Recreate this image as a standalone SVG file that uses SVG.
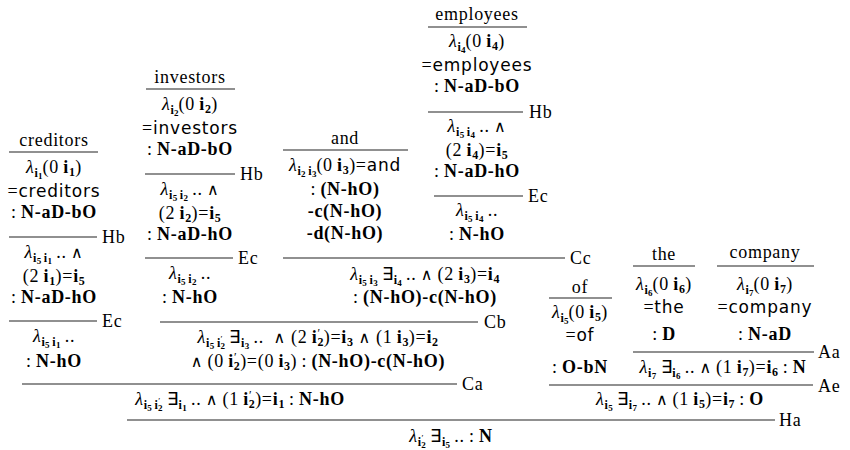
<svg xmlns="http://www.w3.org/2000/svg" width="850" height="450" viewBox="0 0 850 450">
<style>
text { font-family: "Liberation Serif", "Times New Roman", serif; font-size: 18px; letter-spacing: 0.7px; fill: #000; }
.m { text-anchor: middle; }
.b { font-weight: bold; }
.s { font-size: 12px; letter-spacing: 0.3px; }
.ss { font-size: 9px; letter-spacing: 0; }
.sn { font-family: "DejaVu Sans", "Open Sans", sans-serif; font-size: 17px; letter-spacing: 0.8px; }
.w { font-family: "DejaVu Sans", sans-serif; font-size: 16px; }
.l { font-style: italic; }
.rule { stroke: #222; stroke-width: 1.1; }
</style>
<rect width="850" height="450" fill="#fff"/>

<g id="creditors">
<text class="m" x="54" y="146">creditors</text>
<text class="m" x="54" y="173"><tspan class="l">λ</tspan><tspan class="s b" dy="4">i</tspan><tspan class="ss b" dy="2">1</tspan><tspan dy="-6">(0&#8201;</tspan><tspan class="b">i</tspan><tspan class="s b" dy="3">1</tspan><tspan dy="-3">)</tspan></text>
<text class="m" x="54" y="197">=<tspan class="sn">creditors</tspan></text>
<text class="m" x="54" y="218">:&#8201;<tspan class="b">N-aD-bO</tspan></text>
<text class="m" x="54" y="258"><tspan class="l">λ</tspan><tspan class="s b" dy="4">i</tspan><tspan class="ss b" dy="2">5</tspan><tspan class="s b" dy="-2">&#8201;i</tspan><tspan class="ss b" dy="2">1</tspan><tspan dy="-6">&#8201;..&#8201;</tspan><tspan class="w">∧</tspan></text>
<text class="m" x="54" y="282">(2&#8201;<tspan class="b">i</tspan><tspan class="s b" dy="3">1</tspan><tspan dy="-3">)=</tspan><tspan class="b">i</tspan><tspan class="s b" dy="3">5</tspan></text>
<text class="m" x="54" y="303">:&#8201;<tspan class="b">N-aD-hO</tspan></text>
<text class="m" x="54" y="342"><tspan class="l">λ</tspan><tspan class="s b" dy="4">i</tspan><tspan class="ss b" dy="2">5</tspan><tspan class="s b" dy="-2">&#8201;i</tspan><tspan class="ss b" dy="2">1</tspan><tspan dy="-6">&#8201;..</tspan></text>
<text class="m" x="54" y="367">:&#8201;<tspan class="b">N-hO</tspan></text>
</g>

<g id="investors">
<text class="m" x="190" y="83">investors</text>
<text class="m" x="190" y="110"><tspan class="l">λ</tspan><tspan class="s b" dy="4">i</tspan><tspan class="ss b" dy="2">2</tspan><tspan dy="-6">(0&#8201;</tspan><tspan class="b">i</tspan><tspan class="s b" dy="3">2</tspan><tspan dy="-3">)</tspan></text>
<text class="m" x="190" y="134">=<tspan class="sn">investors</tspan></text>
<text class="m" x="190" y="155">:&#8201;<tspan class="b">N-aD-bO</tspan></text>
<text class="m" x="190" y="195"><tspan class="l">λ</tspan><tspan class="s b" dy="4">i</tspan><tspan class="ss b" dy="2">5</tspan><tspan class="s b" dy="-2">&#8201;i</tspan><tspan class="ss b" dy="2">2</tspan><tspan dy="-6">&#8201;..&#8201;</tspan><tspan class="w">∧</tspan></text>
<text class="m" x="190" y="219">(2&#8201;<tspan class="b">i</tspan><tspan class="s b" dy="3">2</tspan><tspan dy="-3">)=</tspan><tspan class="b">i</tspan><tspan class="s b" dy="3">5</tspan></text>
<text class="m" x="190" y="240">:&#8201;<tspan class="b">N-aD-hO</tspan></text>
<text class="m" x="190" y="279"><tspan class="l">λ</tspan><tspan class="s b" dy="4">i</tspan><tspan class="ss b" dy="2">5</tspan><tspan class="s b" dy="-2">&#8201;i</tspan><tspan class="ss b" dy="2">2</tspan><tspan dy="-6">&#8201;..</tspan></text>
<text class="m" x="190" y="303">:&#8201;<tspan class="b">N-hO</tspan></text>
</g>

<g id="and">
<text class="m" x="345" y="144">and</text>
<text class="m" x="345" y="171"><tspan class="l">λ</tspan><tspan class="s b" dy="4">i</tspan><tspan class="ss b" dy="2">2</tspan><tspan class="s b" dy="-2">&#8201;i</tspan><tspan class="ss b" dy="2">3</tspan><tspan dy="-6">(0&#8201;</tspan><tspan class="b">i</tspan><tspan class="s b" dy="3">3</tspan><tspan dy="-3">)=</tspan><tspan class="sn">and</tspan></text>
<text class="m" x="345" y="195">:&#8201;<tspan class="b">(N-hO)</tspan></text>
<text class="m" x="345" y="217"><tspan class="b">-c(N-hO)</tspan></text>
<text class="m" x="345" y="239"><tspan class="b">-d(N-hO)</tspan></text>
</g>

<g id="employees">
<text class="m" x="477" y="20">employees</text>
<text class="m" x="477" y="47"><tspan class="l">λ</tspan><tspan class="s b" dy="4">i</tspan><tspan class="ss b" dy="2">4</tspan><tspan dy="-6">(0&#8201;</tspan><tspan class="b">i</tspan><tspan class="s b" dy="3">4</tspan><tspan dy="-3">)</tspan></text>
<text class="m" x="477" y="71">=<tspan class="sn">employees</tspan></text>
<text class="m" x="477" y="92">:&#8201;<tspan class="b">N-aD-bO</tspan></text>
<text class="m" x="477" y="132"><tspan class="l">λ</tspan><tspan class="s b" dy="4">i</tspan><tspan class="ss b" dy="2">5</tspan><tspan class="s b" dy="-2">&#8201;i</tspan><tspan class="ss b" dy="2">4</tspan><tspan dy="-6">&#8201;..&#8201;</tspan><tspan class="w">∧</tspan></text>
<text class="m" x="477" y="156">(2&#8201;<tspan class="b">i</tspan><tspan class="s b" dy="3">4</tspan><tspan dy="-3">)=</tspan><tspan class="b">i</tspan><tspan class="s b" dy="3">5</tspan></text>
<text class="m" x="477" y="177">:&#8201;<tspan class="b">N-aD-hO</tspan></text>
<text class="m" x="477" y="216"><tspan class="l">λ</tspan><tspan class="s b" dy="4">i</tspan><tspan class="ss b" dy="2">5</tspan><tspan class="s b" dy="-2">&#8201;i</tspan><tspan class="ss b" dy="2">4</tspan><tspan dy="-6">&#8201;..</tspan></text>
<text class="m" x="477" y="240">:&#8201;<tspan class="b">N-hO</tspan></text>
</g>

<g id="conj">
<text class="m" x="425" y="280"><tspan class="l">λ</tspan><tspan class="s b" dy="4">i</tspan><tspan class="ss b" dy="2">5</tspan><tspan class="s b" dy="-2">&#8201;i</tspan><tspan class="ss b" dy="2">3</tspan><tspan dy="-6">&#8201;∃</tspan><tspan class="s b" dy="4">i</tspan><tspan class="ss b" dy="2">4</tspan><tspan dy="-6">&#8201;..&#8201;</tspan><tspan class="w">∧</tspan><tspan>&#8201;(2&#8201;</tspan><tspan class="b">i</tspan><tspan class="s b" dy="3">3</tspan><tspan dy="-3">)=</tspan><tspan class="b">i</tspan><tspan class="s b" dy="3">4</tspan></text>
<text class="m" x="425" y="303">:&#8201;<tspan class="b">(N-hO)-c(N-hO)</tspan></text>
</g>

<g id="coord">
<text class="m" x="318" y="343"><tspan class="l">λ</tspan><tspan class="s b" dy="4">i</tspan><tspan class="ss b" dy="2">5</tspan><tspan class="s b" dy="-2">&#8201;i</tspan><tspan class="ss" dy="-5">′</tspan><tspan class="ss b" dx="-2" dy="7">2</tspan><tspan dy="-6">&#8201;∃</tspan><tspan class="s b" dy="4">i</tspan><tspan class="ss b" dy="2">3</tspan><tspan dy="-6">&#8201;..&#8201; </tspan><tspan class="w">∧</tspan><tspan> (2&#8201;</tspan><tspan class="b">i</tspan><tspan class="s" dy="-6">′</tspan><tspan class="s b" dx="-3" dy="9">2</tspan><tspan dy="-3">)=</tspan><tspan class="b">i</tspan><tspan class="s b" dy="3">3</tspan><tspan dy="-3"> </tspan><tspan class="w">∧</tspan><tspan> (1&#8201;</tspan><tspan class="b">i</tspan><tspan class="s b" dy="3">3</tspan><tspan dy="-3">)=</tspan><tspan class="b">i</tspan><tspan class="s b" dy="3">2</tspan></text>
<text class="m" x="318" y="367"><tspan class="w">∧</tspan><tspan>&#8201;(0&#8201;</tspan><tspan class="b">i</tspan><tspan class="s" dy="-6">′</tspan><tspan class="s b" dx="-3" dy="9">2</tspan><tspan dy="-3">)=(0&#8201;</tspan><tspan class="b">i</tspan><tspan class="s b" dy="3">3</tspan><tspan dy="-3">)&#8201;:&#8201;</tspan><tspan class="b">(N-hO)-c(N-hO)</tspan></text>
</g>

<g id="modifier">
<text class="m" x="240" y="405"><tspan class="l">λ</tspan><tspan class="s b" dy="4">i</tspan><tspan class="ss b" dy="2">5</tspan><tspan class="s b" dy="-2">&#8201;i</tspan><tspan class="ss" dy="-5">′</tspan><tspan class="ss b" dx="-2" dy="7">2</tspan><tspan dy="-6">&#8201;∃</tspan><tspan class="s b" dy="4">i</tspan><tspan class="ss b" dy="2">1</tspan><tspan dy="-6">&#8201;..&#8201;</tspan><tspan class="w">∧</tspan><tspan>&#8201;(1&#8201;</tspan><tspan class="b">i</tspan><tspan class="s" dy="-6">′</tspan><tspan class="s b" dx="-3" dy="9">2</tspan><tspan dy="-3">)=</tspan><tspan class="b">i</tspan><tspan class="s b" dy="3">1</tspan><tspan dy="-3">&#8201;:&#8201;</tspan><tspan class="b">N-hO</tspan></text>
</g>

<g id="result">
<text class="m" x="451" y="442"><tspan class="l">λ</tspan><tspan class="s b" dy="4">i</tspan><tspan class="ss" dy="-5">′</tspan><tspan class="ss b" dx="-2" dy="7">2</tspan><tspan dy="-6">&#8201;∃</tspan><tspan class="s b" dy="4">i</tspan><tspan class="ss b" dy="2">5</tspan><tspan dy="-6">&#8201;..&#8201;:&#8201;</tspan><tspan class="b">N</tspan></text>
</g>

<g id="of">
<text class="m" x="580" y="293">of</text>
<text class="m" x="580" y="318"><tspan class="l">λ</tspan><tspan class="s b" dy="4">i</tspan><tspan class="ss b" dy="2">5</tspan><tspan dy="-6">(0&#8201;</tspan><tspan class="b">i</tspan><tspan class="s b" dy="3">5</tspan><tspan dy="-3">)</tspan></text>
<text class="m" x="580" y="341">=<tspan class="sn">of</tspan></text>
<text class="m" x="580" y="373">:&#8201;<tspan class="b">O-bN</tspan></text>
</g>

<g id="the">
<text class="m" x="664" y="260">the</text>
<text class="m" x="664" y="290"><tspan class="l">λ</tspan><tspan class="s b" dy="4">i</tspan><tspan class="ss b" dy="2">6</tspan><tspan dy="-6">(0&#8201;</tspan><tspan class="b">i</tspan><tspan class="s b" dy="3">6</tspan><tspan dy="-3">)</tspan></text>
<text class="m" x="664" y="313">=<tspan class="sn">the</tspan></text>
<text class="m" x="664" y="340">:&#8201;<tspan class="b">D</tspan></text>
</g>

<g id="company">
<text class="m" x="765" y="258">company</text>
<text class="m" x="765" y="290"><tspan class="l">λ</tspan><tspan class="s b" dy="4">i</tspan><tspan class="ss b" dy="2">7</tspan><tspan dy="-6">(0&#8201;</tspan><tspan class="b">i</tspan><tspan class="s b" dy="3">7</tspan><tspan dy="-3">)</tspan></text>
<text class="m" x="765" y="313">=<tspan class="sn">company</tspan></text>
<text class="m" x="765" y="340">:&#8201;<tspan class="b">N-aD</tspan></text>
</g>

<g id="np">
<text class="m" x="723" y="373"><tspan class="l">λ</tspan><tspan class="s b" dy="4">i</tspan><tspan class="ss b" dy="2">7</tspan><tspan dy="-6">&#8201;∃</tspan><tspan class="s b" dy="4">i</tspan><tspan class="ss b" dy="2">6</tspan><tspan dy="-6">&#8201;..&#8201;</tspan><tspan class="w">∧</tspan><tspan>&#8201;(1&#8201;</tspan><tspan class="b">i</tspan><tspan class="s b" dy="3">7</tspan><tspan dy="-3">)=</tspan><tspan class="b">i</tspan><tspan class="s b" dy="3">6</tspan><tspan dy="-3">&#8201;:&#8201;</tspan><tspan class="b">N</tspan></text>
</g>

<g id="pp">
<text class="m" x="680" y="405"><tspan class="l">λ</tspan><tspan class="s b" dy="4">i</tspan><tspan class="ss b" dy="2">5</tspan><tspan dy="-6">&#8201;∃</tspan><tspan class="s b" dy="4">i</tspan><tspan class="ss b" dy="2">7</tspan><tspan dy="-6">&#8201;..&#8201;</tspan><tspan class="w">∧</tspan><tspan>&#8201;(1&#8201;</tspan><tspan class="b">i</tspan><tspan class="s b" dy="3">5</tspan><tspan dy="-3">)=</tspan><tspan class="b">i</tspan><tspan class="s b" dy="3">7</tspan><tspan dy="-3">&#8201;:&#8201;</tspan><tspan class="b">O</tspan></text>
</g>

<g id="rules">
<line class="rule" x1="9" y1="152" x2="98" y2="152"/>
<line class="rule" x1="9" y1="237" x2="97" y2="237"/><text x="102" y="243">Hb</text>
<line class="rule" x1="9" y1="321" x2="97" y2="321"/><text x="102" y="327">Ec</text>
<line class="rule" x1="146" y1="89" x2="235" y2="89"/>
<line class="rule" x1="145" y1="174" x2="235" y2="174"/><text x="240" y="180">Hb</text>
<line class="rule" x1="145" y1="258" x2="233" y2="258"/><text x="238" y="264">Ec</text>
<line class="rule" x1="283" y1="150" x2="408" y2="150"/>
<line class="rule" x1="428" y1="27" x2="527" y2="27"/>
<line class="rule" x1="428" y1="112" x2="523" y2="112"/><text x="529" y="118">Hb</text>
<line class="rule" x1="434" y1="196" x2="523" y2="196"/><text x="528" y="202">Ec</text>
<line class="rule" x1="283" y1="258" x2="565" y2="258"/><text x="570" y="264">Cc</text>
<line class="rule" x1="160" y1="322" x2="478" y2="322"/><text x="484" y="328">Cb</text>
<line class="rule" x1="22" y1="384" x2="457" y2="384"/><text x="462" y="390">Ca</text>
<line class="rule" x1="127" y1="420" x2="775" y2="420"/><text x="779" y="426">Ha</text>
<line class="rule" x1="549" y1="298" x2="612" y2="298"/>
<line class="rule" x1="633" y1="266" x2="695" y2="266"/>
<line class="rule" x1="717" y1="266" x2="814" y2="266"/>
<line class="rule" x1="633" y1="352" x2="814" y2="352"/><text x="818" y="358">Aa</text>
<line class="rule" x1="549" y1="385" x2="813" y2="385"/><text x="818" y="392">Ae</text>
</g>
</svg>
